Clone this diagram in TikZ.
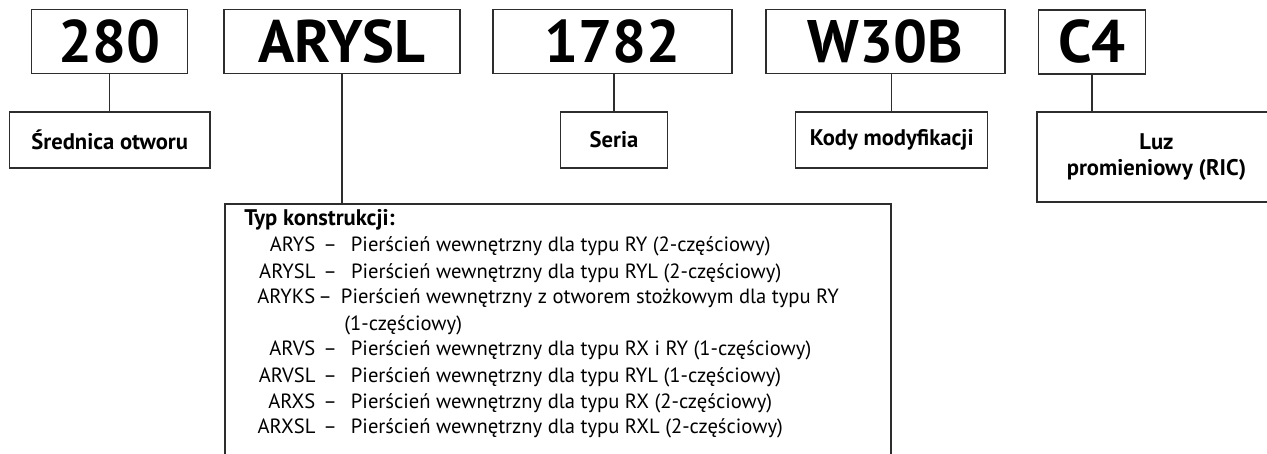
\documentclass[tikz,border=0pt]{standalone}
\usepackage{fontspec}
\usepackage{array}
\setmainfont{PT Sans}
\usetikzlibrary{positioning,calc}
\definecolor{lineblack}{RGB}{45,45,45}
\tikzset{
  codebox/.style={draw=lineblack, line width=0.65pt, minimum width=#1, minimum height=32pt,
    inner sep=0pt, font=\bfseries\fontsize{30}{30}\selectfont},
  labelbox/.style={draw=lineblack, line width=0.65pt, minimum width=#1, minimum height=28pt,
    inner sep=0pt, align=center, font=\bfseries\fontsize{11.3}{13.3}\selectfont},
  listbox/.style={draw=lineblack, line width=0.65pt, minimum width=333pt, minimum height=138pt,
    inner sep=0pt},
  listtext/.style={anchor=base west, inner sep=0pt, font=\fontsize{10.3}{13}\selectfont},
  link/.style={draw=lineblack, line width=0.65pt}
}

\begin{document}
\begin{tikzpicture}[x=0.5pt,y=-0.5pt]
  \useasboundingbox (0,0) rectangle (1267,454);
  \clip (0,0) rectangle (1267,454);

  % designation parts
  \node[codebox=78pt] (n280) at (109.7,41.3) {280};
  \node[codebox=118pt] (arysl) at (342,41.3) {ARYSL};
  \node[codebox=119.5pt] (n1782) at (612.5,41.3) {1782};
  \node[codebox=119.5pt] (w30b) at (885.5,41.3) {W30B};
  \node[codebox=53.5pt] (c4) at (1092,42) {C4};

  % meanings
  \node[labelbox=100.4pt] (srednica) at (109.7,140) {Średnica otworu};
  \node[labelbox=53.5pt] (seria) at (614,140) {Seria};
  \node[labelbox=96pt] (kody) at (891.7,140) {Kody modyfikacji};
  \node[labelbox=119.5pt, minimum height=45pt] (luz) at (1156.5,157) {Luz\\promieniowy (RIC)};

  \node[listbox] (typbox) at (558,342) {};
  \node[listtext] (typlist) at (244,226) {%
    \begin{tabular}[t]{@{}>{\raggedleft\arraybackslash}p{35.5pt}@{\hspace{4pt}}l@{}}
      \multicolumn{2}{@{}l@{}}{\bfseries\fontsize{11.3}{13}\selectfont Typ konstrukcji:}\\
      ARYS & –\hspace{7pt}Pierścień wewnętrzny dla typu RY (2-częściowy)\\
      ARYSL & –\hspace{7pt}Pierścień wewnętrzny dla typu RYL (2-częściowy)\\
      ARYKS & \hspace*{-2.5pt}–\hspace{4.5pt}Pierścień wewnętrzny z otworem stożkowym dla typu RY\\
       & \hspace*{10.5pt}(1-częściowy)\\
      ARVS & –\hspace{7pt}Pierścień wewnętrzny dla typu RX i RY (1-częściowy)\\
      ARVSL & –\hspace{7pt}Pierścień wewnętrzny dla typu RYL (1-częściowy)\\
      ARXS & –\hspace{7pt}Pierścień wewnętrzny dla typu RX (2-częściowy)\\
      ARXSL & –\hspace{7pt}Pierścień wewnętrzny dla typu RXL (2-częściowy)
    \end{tabular}};

  \draw[link] (n280) -- (srednica);
  \draw[link] (arysl) -- (arysl |- typbox.north);
  \draw[link] (seria) -- (seria |- n1782.south);
  \draw[link] (kody) -- (kody |- w30b.south);
  \draw[link] (c4) -- (c4 |- luz.north);
\end{tikzpicture}
\end{document}
